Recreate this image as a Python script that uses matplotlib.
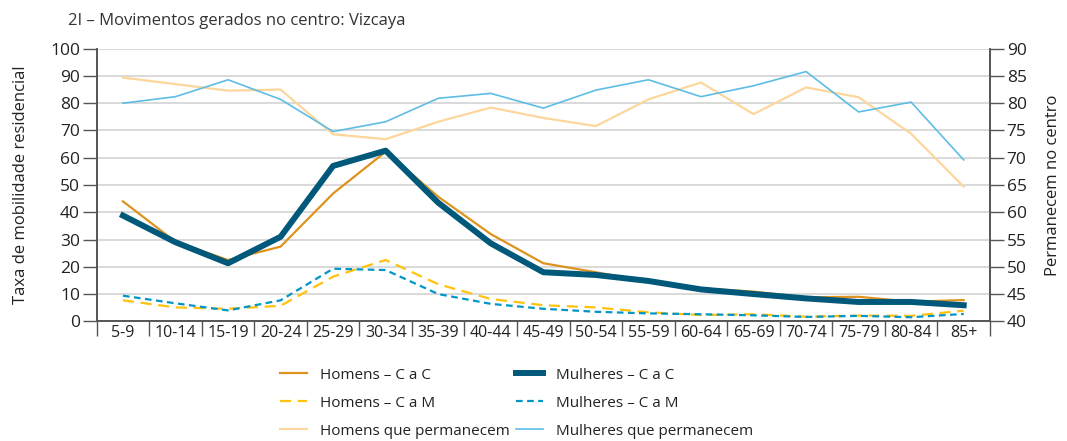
import matplotlib
matplotlib.use("Agg")
import matplotlib.pyplot as plt
import numpy as np

plt.rcParams["font.family"] = ["Open Sans", "DejaVu Sans"]

idades = ["5-9", "10-14", "15-19", "20-24", "25-29", "30-34", "35-39", "40-44",
          "45-49", "50-54", "55-59", "60-64", "65-69", "70-74", "75-79", "80-84", "85+"]

homens_cac = [44.0, 29.2, 22.5, 27.4, 46.9, 62.2, 45.7, 32.0, 21.3, 18.0,
              14.5, 12.1, 10.9, 8.8, 9.0, 7.2, 7.8]
mulheres_cac = [38.8, 29.0, 21.3, 31.0, 57.0, 62.6, 43.5, 28.6, 18.0, 17.0,
                14.8, 11.7, 10.0, 8.4, 7.1, 7.1, 5.9]
homens_cam = [7.7, 5.1, 4.6, 5.7, 16.4, 22.5, 13.6, 8.2, 5.9, 5.1,
              3.3, 2.3, 2.6, 1.7, 2.1, 2.0, 3.9]
mulheres_cam = [9.4, 6.6, 4.0, 7.7, 19.3, 18.8, 10.0, 6.4, 4.6, 3.5,
                2.9, 2.6, 2.2, 1.6, 2.0, 1.5, 2.7]
# eixo da direita
homens_perm = [84.7, 83.5, 82.3, 82.5, 74.3, 73.4, 76.6, 79.2, 77.3, 75.8,
               80.7, 83.8, 78.0, 82.9, 81.1, 74.4, 64.7]
mulheres_perm = [80.0, 81.2, 84.3, 80.7, 74.8, 76.6, 80.9, 81.8, 79.1, 82.4,
                 84.3, 81.2, 83.2, 85.8, 78.4, 80.2, 69.6]

x = np.arange(len(idades))

fig = plt.figure(figsize=(10.67, 4.41), dpi=100)
ax = fig.add_axes([0.0906, 0.2714, 0.8372, 0.6182])
ax2 = ax.twinx()

axis_col = "#555555"
txt_col = "#222222"

l1, = ax.plot(x, homens_cac, color="#DE931E", lw=1.6, label="Homens – C a C")
l4, = ax.plot(x, mulheres_cac, color="#00587A", lw=4.3, label="Mulheres – C a C", zorder=3)
l2, = ax.plot(x, homens_cam, color="#FFC20E", lw=1.6, ls=(0, (5, 3)), label="Homens – C a M")
l5, = ax.plot(x, mulheres_cam, color="#0096C6", lw=1.6, ls=(0, (3, 2)), label="Mulheres – C a M")
l3, = ax2.plot(x, homens_perm, color="#FDD69C", lw=1.6, label="Homens que permanecem")
l6, = ax2.plot(x, mulheres_perm, color="#5EBDE5", lw=1.2, label="Mulheres que permanecem")

ax.set_xlim(-0.5, len(idades) - 0.5)
ax.set_ylim(0, 100)
ax2.set_ylim(40, 90)
ax.set_yticks(np.arange(0, 101, 10))
ax2.set_yticks(np.arange(40, 91, 5))
ax.yaxis.grid(True, color="#D3D3D3", lw=1.2)
ax.set_axisbelow(True)

ax.set_xticks(x)
ax.set_xticklabels(idades)
ax.set_xticks(np.arange(-0.5, len(idades)), minor=True)
ax.tick_params(axis="x", which="major", length=0, pad=3, labelsize=11.5, labelcolor=txt_col)
ax.tick_params(axis="x", which="minor", length=11, width=1, color=axis_col, direction="out")
ax.tick_params(axis="y", length=10, width=1, color=axis_col, labelsize=12.5, labelcolor=txt_col, pad=2)
ax2.tick_params(axis="y", length=10, width=1, color=axis_col, labelsize=12.5, labelcolor=txt_col, pad=2)

for a in (ax, ax2):
    a.spines["top"].set_visible(False)
    for s in ("left", "right", "bottom"):
        a.spines[s].set_color(axis_col)
        a.spines[s].set_linewidth(1.2)

ax.set_ylabel("Taxa de mobilidade residencial", fontsize=12, color=txt_col, labelpad=15)
ax2.set_ylabel("Permanecem no centro", fontsize=12, color=txt_col, labelpad=13)

fig.text(0.064, 0.953, "2I – Movimentos gerados no centro: Vizcaya", fontsize=12,
         color="#333333", va="center", fontstretch="semi-condensed")

fig.legend(handles=[l1, l2, l3, l4, l5, l6], ncol=2, loc="upper left",
           bbox_to_anchor=(0.262, 0.166), frameon=False, fontsize=11,
           handlelength=1.8, handletextpad=0.85, columnspacing=0.4, labelspacing=0.85,
           labelcolor=txt_col, borderaxespad=0, borderpad=0)

fig.savefig("out.png", dpi=100)
